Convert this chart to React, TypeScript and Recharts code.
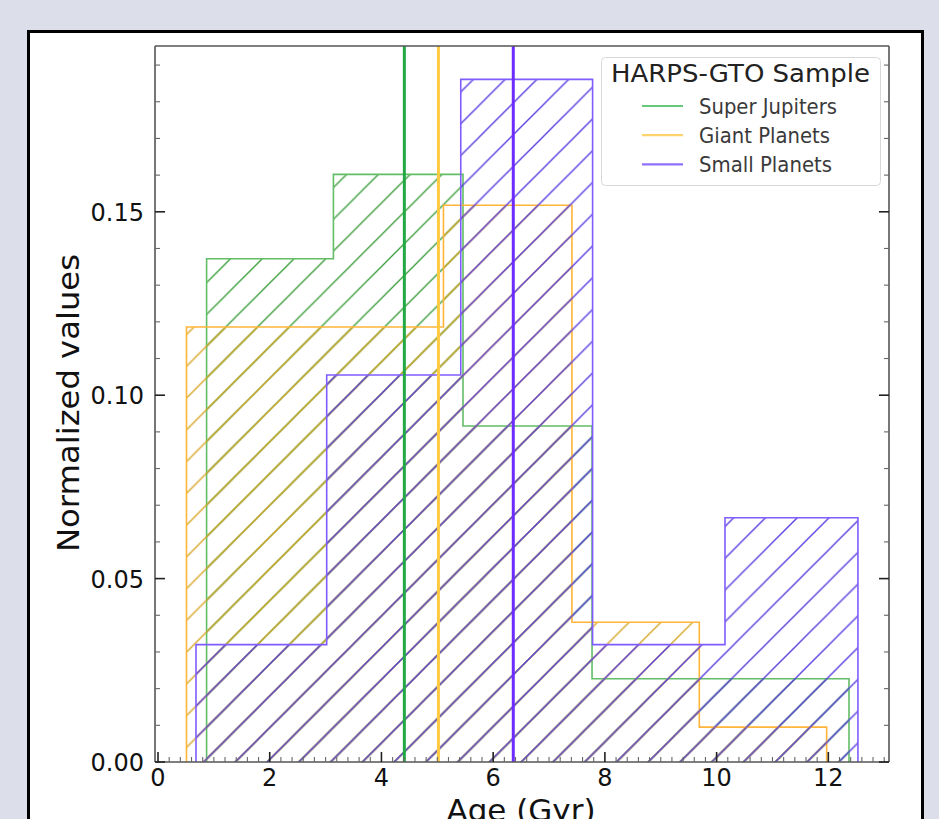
import React from "react";
import { ComposedChart, Area, XAxis, YAxis, ReferenceLine, Legend } from "recharts";

const seriesNames = ["Super Jupiters", "Giant Planets", "Small Planets"];

// bin edges (Gyr) and normalised heights
const jupiterEdges = [0.87, 3.14, 5.46, 7.77, 10.07, 12.37];
const jupiterHeights = [0.1372, 0.1602, 0.0916, 0.0227, 0.0227];

const giantEdges = [0.51, 2.81, 5.11, 7.41, 9.69, 11.97];
const giantHeights = [0.1186, 0.1186, 0.1518, 0.0381, 0.0095];

const smallEdges = [0.68, 3.02, 5.42, 7.78, 10.15, 12.53];
const smallHeights = [0.032, 0.1055, 0.1861, 0.032, 0.0666];

// mean ages drawn as vertical lines
const meanAges = [4.41, 5.02, 6.36];

const xMajorTicks = [0, 2, 4, 6, 8, 10, 12];
const yMajorTicks = [0, 0.05, 0.1, 0.15];

const xTicks = Array.from({ length: 66 }, (_, i) => +(i * 0.2).toFixed(1));
const yTicks = Array.from({ length: 20 }, (_, i) => +(i * 0.01).toFixed(2));

const meanColors = ["#22a845", "#ffc940", "#6d2cff"];
const edgeColors = ["#62bd66", "#ffb43a", "#7f5cff"];
const hatchColors = ["#40a040", "#d8a62a", "#5b40e0"];
const legendColors = ["#66c97a", "#ffd36e", "#9070ff"];
const legendWidths = [138, 131, 133];

// histtype="step" outline: drop to zero at both ends
function stepData(edges: number[], heights: number[]) {
  const pts = [{ x: edges[0], y: 0 }];
  heights.forEach((h, i) => pts.push({ x: edges[i], y: h }));
  pts.push({ x: edges[edges.length - 1], y: heights[heights.length - 1] });
  pts.push({ x: edges[edges.length - 1], y: 0 });
  return pts;
}

const histograms = [
  stepData(jupiterEdges, jupiterHeights),
  stepData(giantEdges, giantHeights),
  stepData(smallEdges, smallHeights),
];

const FONT = "DejaVu Sans";
const HATCH = 31.76;
const PHASE = 12.8;

const isMajor = (v: number, list: number[]) => list.some((m) => Math.abs(m - v) < 1e-6);

function tickStyle(major: boolean) {
  return { stroke: major ? "#222" : "#666", strokeWidth: major ? 1.6 : 1.1 };
}

function BottomTick(props: any) {
  const { x, y, payload } = props;
  const major = isMajor(payload.value, xMajorTicks);
  return (
    <g>
      <line x1={x} x2={x} y1={y} y2={y - (major ? 10 : 5)} {...tickStyle(major)} />
      {major && (
        <text x={x} y={y + 24} textAnchor="middle" fontFamily={FONT} fontSize={24} fill="#111">
          {payload.value}
        </text>
      )}
    </g>
  );
}

function TopTick(props: any) {
  const { x, y, payload } = props;
  const major = isMajor(payload.value, xMajorTicks);
  return <line x1={x} x2={x} y1={y} y2={y + (major ? 10 : 5)} {...tickStyle(major)} />;
}

function LeftTick(props: any) {
  const { x, y, payload } = props;
  const major = isMajor(payload.value, yMajorTicks);
  return (
    <g>
      <line x1={x} x2={x + (major ? 10 : 5)} y1={y} y2={y} {...tickStyle(major)} />
      {major && (
        <text x={x - 11} y={y + 9} textAnchor="end" fontFamily={FONT} fontSize={24} fill="#111">
          {payload.value.toFixed(2)}
        </text>
      )}
    </g>
  );
}

function RightTick(props: any) {
  const { x, y, payload } = props;
  const major = isMajor(payload.value, yMajorTicks);
  return <line x1={x} x2={x - (major ? 10 : 5)} y1={y} y2={y} {...tickStyle(major)} />;
}

function LegendBox() {
  return (
    <svg width={281} height={130} style={{ display: "block" }}>
      <rect x={0.5} y={0.5} width={279} height={128} rx={4} fill="#fff" fillOpacity={0.85} stroke="#d8d8d8" />
      <text x={139.5} y={24.7} textAnchor="middle" fontFamily={FONT} fontSize={25} fill="#222"
        textLength={259} lengthAdjust="spacingAndGlyphs">
        HARPS-GTO Sample
      </text>
      {seriesNames.map((name, i) => (
        <g key={name}>
          <line x1={41} x2={82} y1={49 + i * 29.2} y2={49 + i * 29.2} stroke={legendColors[i]} strokeWidth={2.2} />
          <text x={98} y={57 + i * 29} fontFamily={FONT} fontSize={21} fill="#3a3a3a"
            textLength={legendWidths[i]} lengthAdjust="spacingAndGlyphs">
            {name}
          </text>
        </g>
      ))}
    </svg>
  );
}

export default function App() {
  return (
    <div style={{ position: "absolute", left: 0, top: 0, width: 939, height: 819, overflow: "hidden", background: "#dcdfe9" }}>
      <div
        style={{
          position: "absolute", left: 27, top: 30, width: 897, height: 830,
          boxSizing: "border-box", border: "3px solid #000", background: "#fff",
        }}
      />
      <div style={{ position: "absolute", left: 0, top: 0 }}>
        <ComposedChart width={939} height={819} margin={{ top: 36, right: 40, bottom: 17, left: 95 }}>
          <defs>
            {hatchColors.map((c, i) => (
              <pattern key={i} id={`hatch-${i}`} patternUnits="userSpaceOnUse" x={0} y={0} width={HATCH} height={HATCH}>
                <path
                  d={`M -2 ${PHASE + 2} L ${PHASE + 2} -2 M ${PHASE - 2} ${HATCH + 2} L ${HATCH + 2} ${PHASE - 2}`}
                  stroke={c}
                  strokeWidth={1.4}
                  fill="none"
                />
              </pattern>
            ))}
          </defs>

          {histograms.map((d, i) => (
            <Area
              key={seriesNames[i]}
              name={seriesNames[i]}
              data={d}
              dataKey="y"
              xAxisId="b"
              yAxisId="l"
              type="stepAfter"
              stroke={edgeColors[i]}
              strokeWidth={1.6}
              fill={`url(#hatch-${i})`}
              fillOpacity={1}
              dot={false}
              activeDot={false}
              isAnimationActive={false}
            />
          ))}

          {meanAges.map((m, i) => (
            <ReferenceLine key={i} x={m} xAxisId="b" yAxisId="l" stroke={meanColors[i]} strokeWidth={3} />
          ))}

          <XAxis
            xAxisId="b"
            type="number"
            dataKey="x"
            domain={[-0.0537, 13.086]}
            allowDataOverflow
            ticks={xTicks}
            interval={0}
            tick={BottomTick}
            tickLine={false}
            tickSize={0}
            tickMargin={0}
            height={40}
            axisLine={{ stroke: "#555", strokeWidth: 1.6 }}
          />
          <XAxis
            xAxisId="t"
            orientation="top"
            type="number"
            domain={[-0.0537, 13.086]}
            allowDataOverflow
            ticks={xTicks}
            interval={0}
            tick={TopTick}
            tickLine={false}
            tickSize={0}
            tickMargin={0}
            height={10}
            axisLine={{ stroke: "#555", strokeWidth: 1.6 }}
          />
          <YAxis
            yAxisId="l"
            type="number"
            domain={[0, 0.1952]}
            allowDataOverflow
            ticks={yTicks}
            interval={0}
            tick={LeftTick}
            tickLine={false}
            tickSize={0}
            tickMargin={0}
            width={60}
            axisLine={{ stroke: "#555", strokeWidth: 1.6 }}
          />
          <YAxis
            yAxisId="r"
            orientation="right"
            type="number"
            domain={[0, 0.1952]}
            allowDataOverflow
            ticks={yTicks}
            interval={0}
            tick={RightTick}
            tickLine={false}
            tickSize={0}
            tickMargin={0}
            width={10}
            axisLine={{ stroke: "#555", strokeWidth: 1.6 }}
          />

          <Legend
            layout="vertical"
            align="center"
            verticalAlign="middle"
            wrapperStyle={{ left: 601, top: 57, width: 281, height: 130 }}
            content={() => <LegendBox />}
          />

          <text x={521} y={821} textAnchor="middle" fontFamily={FONT} fontSize={31} fill="#111">
            Age (Gyr)
          </text>
          <text
            x={79}
            y={403}
            transform="rotate(-90 79 403)"
            textAnchor="middle"
            fontFamily={FONT}
            fontSize={31}
            fill="#111"
            textLength={298}
            lengthAdjust="spacingAndGlyphs"
          >
            Normalized values
          </text>
        </ComposedChart>
      </div>
    </div>
  );
}
